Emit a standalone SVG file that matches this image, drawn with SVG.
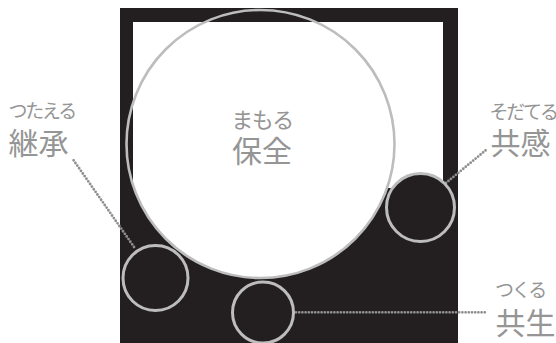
<svg xmlns="http://www.w3.org/2000/svg" width="556" height="343" viewBox="0 0 556 343">
<style>
.lbl{font-family:"Noto Sans CJK JP","Noto Sans",sans-serif;fill:#959595}
.s{font-size:19px;letter-spacing:-2.2px}
.b{font-size:30px}
.ring{fill:#231f20;stroke:#bdbdbd;stroke-width:3}
.dots{fill:none;stroke:#8f8f8f;stroke-width:2.8;stroke-linecap:round;stroke-dasharray:0 3.2}
</style>
<defs>
<clipPath id="inner"><rect x="133" y="22" width="310" height="321"/></clipPath>
</defs>
<rect x="0" y="0" width="556" height="343" fill="#ffffff"/>
<g id="frame">
<rect x="120" y="8" width="338" height="335" fill="#231f20"/>
<rect x="133" y="22" width="310" height="166" fill="#ffffff"/>
</g>
<g id="node-hozen">
<circle cx="260.5" cy="144" r="134" fill="#ffffff" clip-path="url(#inner)"/>
<circle cx="260.5" cy="144" r="134" fill="none" stroke="#bdbdbd" stroke-width="2.6"/>
<text class="lbl" x="262" y="128" font-size="22" text-anchor="middle" letter-spacing="-1.5">まもる</text>
<text class="lbl b" x="262" y="162" text-anchor="middle">保全</text>
</g>
<g id="connectors">
<path class="dots" d="M134 247 L72 158"/>
<path class="dots" d="M446 183 L486 150"/>
<path class="dots" d="M296 312.3 L487 312.3"/>
</g>
<g id="node-keisho">
<circle class="ring" cx="155.5" cy="278" r="32.5"/>
<text class="lbl s" x="8.5" y="118">つたえる</text>
<text class="lbl b" x="8.5" y="154" font-size="31">継承</text>
</g>
<g id="node-kyokan">
<circle class="ring" cx="420.5" cy="207.5" r="34"/>
<text class="lbl s" x="489.5" y="119">そだてる</text>
<text class="lbl b" x="490.5" y="154">共感</text>
</g>
<g id="node-kyosei">
<circle class="ring" cx="263" cy="312.5" r="30.5"/>
<text class="lbl s" x="495" y="297">つくる</text>
<text class="lbl b" x="495.5" y="334">共生</text>
</g>
</svg>
